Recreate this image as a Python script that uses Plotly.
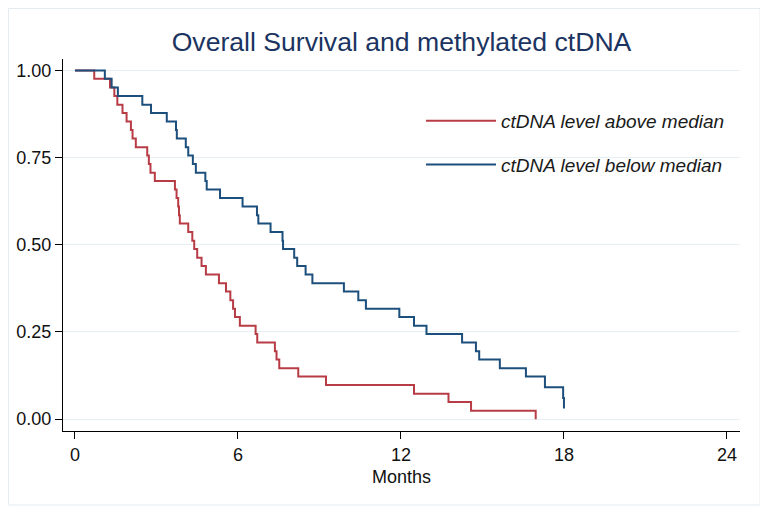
import plotly.graph_objects as go

# Kaplan-Meier step data (months, survival probability)
red_months = [0, 0.71, 1.29, 1.45, 1.56, 1.75, 1.90, 2.06, 2.12, 2.24, 2.66, 2.72, 2.78, 2.94,
              3.68, 3.74, 3.80, 3.83, 3.86, 4.17, 4.32, 4.39, 4.50, 4.66, 4.82, 5.30, 5.56,
              5.72, 5.82, 5.89, 6.07, 6.65, 6.71, 7.36, 7.42, 7.52, 8.22, 9.24, 12.48, 13.75,
              14.58, 16.96]
red_surv = [1.000, 0.976, 0.951, 0.927, 0.902, 0.878, 0.854, 0.829, 0.805, 0.780, 0.756,
            0.732, 0.707, 0.683, 0.659, 0.634, 0.610, 0.585, 0.561, 0.537, 0.512, 0.488,
            0.463, 0.439, 0.415, 0.390, 0.366, 0.341, 0.317, 0.293, 0.268, 0.244, 0.220,
            0.195, 0.171, 0.146, 0.122, 0.098, 0.073, 0.049, 0.024, 0.000]

blue_months = [0, 1.10, 1.35, 1.58, 2.48, 2.80, 3.38, 3.72, 3.75, 4.08, 4.17, 4.34, 4.45,
               4.80, 4.85, 5.34, 6.17, 6.70, 6.75, 7.20, 7.64, 7.66, 8.07, 8.18, 8.49, 8.74,
               9.90, 10.43, 10.71, 11.94, 12.48, 12.94, 14.25, 14.76, 14.88, 15.64, 16.60,
               17.30, 17.97, 18.00]
blue_surv = [1.000, 0.976, 0.951, 0.927, 0.902, 0.878, 0.854, 0.829, 0.805, 0.780, 0.756,
             0.732, 0.707, 0.683, 0.659, 0.634, 0.610, 0.585, 0.561, 0.537, 0.512, 0.488,
             0.463, 0.439, 0.415, 0.390, 0.366, 0.341, 0.317, 0.293, 0.268, 0.244, 0.220,
             0.195, 0.171, 0.146, 0.122, 0.0915, 0.061, 0.0305]

series_names = ["ctDNA level above median", "ctDNA level below median"]
x_ticks = [0, 6, 12, 18, 24]
y_ticks = [0.00, 0.25, 0.50, 0.75, 1.00]

RED = "#b83c46"
BLUE = "#1d4f7c"
GRID = "#e6eff2"
FONT = "Liberation Sans, Arial, sans-serif"

W, H = 760, 504          # page body adds an 8px margin
L, R, T, B = 55, 28, 51, 81
PW, PH = W - L - R, H - T - B

fig = go.Figure()
fig.add_trace(go.Scatter(x=red_months, y=red_surv, mode="lines", name=series_names[0],
                         legendgroup="a", line=dict(shape="hv", color=RED, width=2)))
fig.add_trace(go.Scatter(x=blue_months, y=blue_surv, mode="lines", name=series_names[1],
                         legendgroup="b", line=dict(shape="hv", color=BLUE, width=2)))

fig.update_layout(
    width=W, height=H,
    margin=dict(l=L, r=R, t=T, b=B, autoexpand=False),
    paper_bgcolor="white", plot_bgcolor="white",
    font=dict(family=FONT, color="#111111", size=18),
    title=dict(text="Overall Survival and methylated ctDNA", x=0.5, xref="paper",
               y=1 - 34 / H, yanchor="middle",
               font=dict(family=FONT, size=26.6, color="#1c3461")),
    legend=dict(x=(413 - L) / PW, y=(H - B - 94) / PH, xanchor="left", yanchor="top",
                bgcolor="rgba(0,0,0,0)", borderwidth=0, itemwidth=70,
                tracegroupgap=16, font=dict(family=FONT, size=19, style="italic", color="#1a1a1a")),
    showlegend=True,
)

fig.update_xaxes(range=[-0.44, 24.48], tickvals=x_ticks, ticktext=[str(v) for v in x_ticks],
                 showgrid=False, zeroline=False, showline=True, linecolor="black", linewidth=1,
                 ticks="outside", ticklen=7, tickwidth=1, tickcolor="black",
                 tickfont=dict(size=18), title=dict(text="Months", font=dict(size=18), standoff=6))
fig.update_yaxes(range=[-0.034, 1.033], tickvals=y_ticks, tickformat=".2f",
                 showgrid=True, gridcolor=GRID, gridwidth=1, zeroline=False,
                 showline=True, linecolor="black", linewidth=1,
                 ticks="outside", ticklen=7, tickwidth=1, tickcolor="black",
                 tickfont=dict(size=18))

# faint outer graph-region frame
fig.add_shape(type="rect", xref="paper", yref="paper",
              x0=(0.5 - L) / PW, x1=(752 - L) / PW,
              y0=(H - B - 497) / PH, y1=(H - B - 0.5) / PH,
              line=dict(color="#e4ecef", width=1), layer="below")

fig.write_html("out.html")
